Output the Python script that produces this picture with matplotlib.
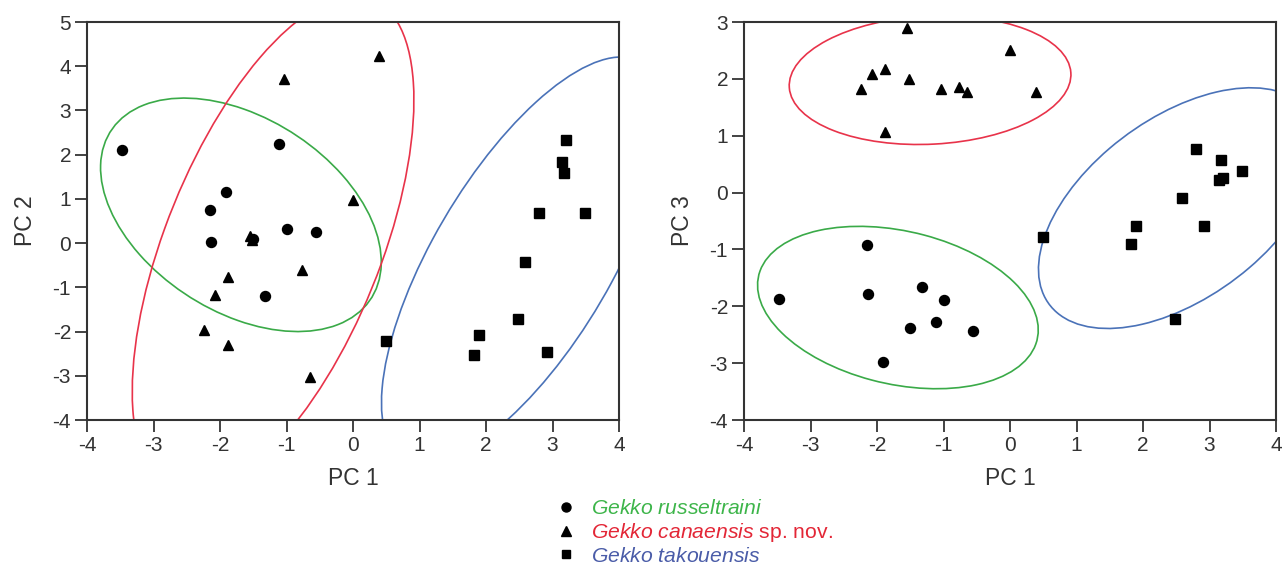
import numpy as np
import matplotlib
matplotlib.use("Agg")
import matplotlib.pyplot as plt
from matplotlib.patches import Ellipse
from matplotlib.lines import Line2D

plt.rcParams['font.family'] = ['Liberation Sans', 'DejaVu Sans']
plt.rcParams['mathtext.fontset'] = 'custom'
plt.rcParams['mathtext.it'] = 'Liberation Sans:italic'
plt.rcParams['mathtext.rm'] = 'Liberation Sans'
plt.rcParams['axes.unicode_minus'] = False

# ---- data ----
# Gekko russeltraini (circles)
rus_pc1 = [-3.48, -2.15, -2.14, -1.32, -1.00, -1.11, -1.51, -0.55, -1.91]
rus_pc2 = [2.11, 0.74, 0.02, -1.20, 0.33, 2.24, 0.10, 0.26, 1.16]
rus_pc3 = [-1.88, -0.92, -1.78, -1.66, -1.89, -2.27, -2.39, -2.43, -2.98]

# Gekko canaensis sp. nov. (triangles)
can_pc1 = [-2.24, -2.08, -1.88, -1.88, -1.55, -1.52, -1.04, -0.77, -0.65, 0.00, 0.39]
can_pc2 = [-1.97, -1.18, -0.76, -2.31, 0.17, 0.08, 3.71, -0.61, -3.02, 0.98, 4.22]
can_pc3 = [1.82, 2.09, 2.17, 1.07, 2.89, 2.00, 1.82, 1.85, 1.77, 2.51, 1.77]

# Gekko takouensis (squares)
tak_pc1 = [3.21, 3.15, 3.18, 2.79, 3.49, 2.59, 2.48, 1.89, 1.82, 2.92, 0.49]
tak_pc2 = [2.33, 1.83, 1.59, 0.68, 0.68, -0.42, -1.71, -2.07, -2.52, -2.47, -2.22]
tak_pc3 = [0.25, 0.22, 0.57, 0.77, 0.38, -0.09, -2.23, -0.59, -0.91, -0.59, -0.79]

species = ["Gekko russeltraini", "Gekko canaensis sp. nov.", "Gekko takouensis"]
colors = ["#3aaa48", "#e8334a", "#4a72b8"]
text_colors = ["#3db54a", "#e32636", "#4a5ca8"]
markers = ["o", "^", "s"]
msizes = [7.2, 7.6, 6.8]

CHI2_95 = 5.991


def conf_ellipse(ax, x, y, color):
    x = np.asarray(x)
    y = np.asarray(y)
    cov = np.cov(x, y)
    vals, vecs = np.linalg.eigh(cov)
    order = vals.argsort()[::-1]
    vals, vecs = vals[order], vecs[:, order]
    angle = np.degrees(np.arctan2(vecs[1, 0], vecs[0, 0]))
    w, h = 2 * np.sqrt(CHI2_95 * vals)
    e = Ellipse((x.mean(), y.mean()), w, h, angle=angle, fill=False,
                edgecolor=color, lw=1.2, zorder=2)
    ax.add_patch(e)


fig = plt.figure(figsize=(12.87, 5.72), dpi=100)
axL = fig.add_axes([87 / 1287, 152 / 572, 532 / 1287, 398 / 572])
axR = fig.add_axes([744 / 1287, 152 / 572, 532 / 1287, 398 / 572])

groups = [
    (rus_pc1, rus_pc2, rus_pc3),
    (can_pc1, can_pc2, can_pc3),
    (tak_pc1, tak_pc2, tak_pc3),
]

draw_order = [1, 0, 2]
for ax, idx, ylab, ylim in [(axL, 1, "PC 2", (-4, 5)), (axR, 2, "PC 3", (-4, 3))]:
    for g in range(3):
        conf_ellipse(ax, groups[g][0], groups[g][idx], colors[g])
    for z, g in enumerate(draw_order):
        ax.plot(groups[g][0], groups[g][idx], linestyle="none", marker=markers[g],
                ms=msizes[g], color="black", mec="black", zorder=3 + z)
    ax.set_xlim(-4, 4)
    ax.set_ylim(*ylim)
    ax.set_xticks(range(-4, 5))
    ax.set_yticks(range(ylim[0], ylim[1] + 1))
    ax.set_xlabel("PC 1", fontsize=16.5, color="#333333", labelpad=9)
    ax.set_ylabel(ylab, fontsize=16.5, color="#333333", labelpad=11)
    ax.tick_params(direction="out", length=8.5, width=1.2, labelsize=15,
                   colors="#222222", labelcolor="#333333", pad=3)
    for sp in ax.spines.values():
        sp.set_linewidth(1.5)
        sp.set_color("#333333")

labels = [r"$\it{Gekko\ russeltraini}$", r"$\it{Gekko\ canaensis}$ sp. nov.",
          r"$\it{Gekko\ takouensis}$"]
handles = [Line2D([], [], linestyle="none", marker=markers[g], ms=msizes[g] * 0.9,
                  color="black") for g in range(3)]
leg = fig.legend(handles, labels, loc="upper left",
                 bbox_to_anchor=(545 / 1287, 1 - 491 / 572), frameon=False,
                 fontsize=15.2, handletextpad=0.6, labelspacing=0.12,
                 handlelength=1.2, borderaxespad=0)
for t, c in zip(leg.get_texts(), text_colors):
    t.set_color(c)

fig.savefig("out.png", dpi=100)
